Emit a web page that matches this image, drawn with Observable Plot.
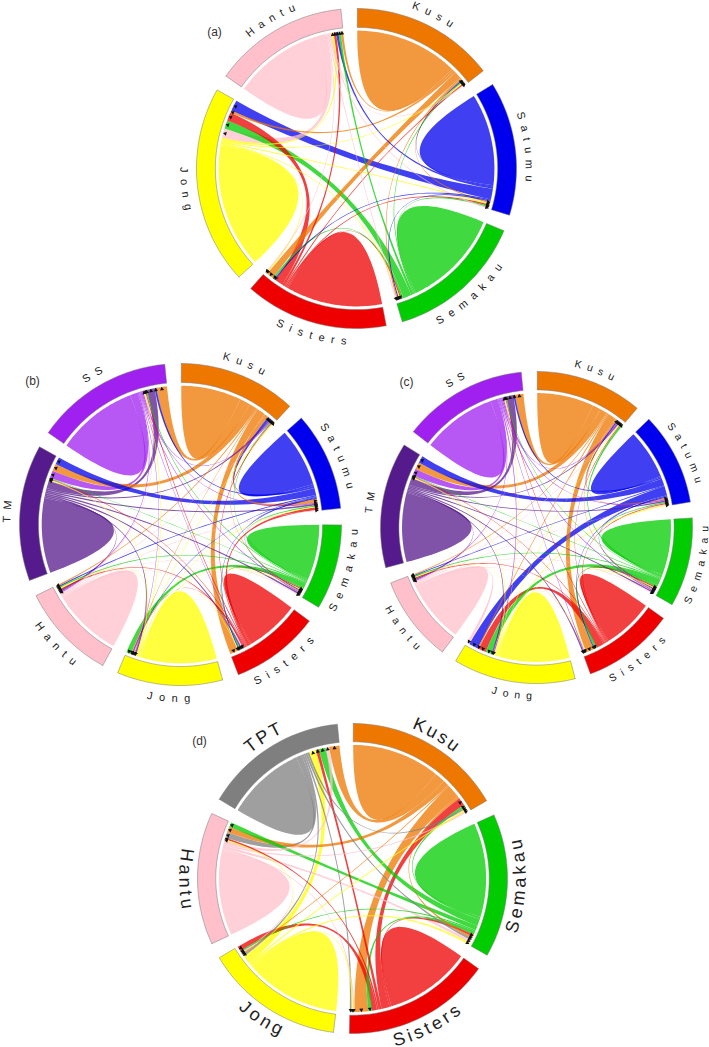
<!DOCTYPE html>
<html>
<head>
<meta charset="utf-8">
<script src="https://cdn.jsdelivr.net/npm/d3@7"></script>
<script src="https://cdn.jsdelivr.net/npm/@observablehq/plot@0.6"></script>
<style>html,body{margin:0;padding:0;background:#fff}svg{display:block}</style>
</head>
<body>
<div id="chart"></div>
<script>
const siteNames = {K:"Kusu",Sa:"Satumu",Se:"Semakau",Si:"Sisters",J:"Jong",H:"Hantu",T:"TM",S:"SS",P:"TPT"};
const siteColors = {K:"#EE7700",Sa:"#0000EE",Se:"#00CC00",Si:"#EE0000",J:"#FFFF00",H:"#FFC0CB",T:"#551A8B",S:"#A020F0",P:"#7F7F7F"};

// Sites clockwise, self-recruitment, and incoming connectivity of each site, clockwise along its rim.
const sitesA = ["K","Sa","Se","Si","J","H"];
const selfA = [43.4,38.6,41.5,40.6,52.4,37.9];
const inflowA = {
  K:[["Sa",.5],["Se",.5],["J",.5],["Si",.5],["H",.5]],
  Sa:[["K",.6],["J",.6],["Si",.6],["Se",.6],["H",.6]],
  Se:[["Si",.5],["J",.5],["Sa",.5],["K",.5],["H",.5]],
  Si:[["Sa",.5],["Se",.8],["K",3],["J",.5],["H",.5]],
  J:[["H",4],["Se",3.5],["Si",3.5],["K",1],["Sa",4.5]],
  H:[["J",1],["Si",1],["Sa",1],["Se",1],["K",1]]
};
const sitesB = ["K","Sa","Se","Si","J","H","T","S"];
const selfB = [25.2,24.3,23,22.4,31.4,29,31.2,33.9];
const inflowB = {
  K:[["Sa",.9],["T",.7],["S",.5],["Se",.4],["Si",.4],["H",.3],["J",.3]],
  Sa:[["K",1.5],["S",.4],["T",.7],["Se",.5],["J",.3],["Si",1.2],["H",.3]],
  Se:[["Si",.5],["J",.4],["Sa",.4],["K",.4],["S",.4],["T",.7],["H",.3]],
  Si:[["S",.3],["H",.3],["T",.7],["Se",.5],["Sa",.4],["J",.3],["K",3.5]],
  J:[["T",.7],["S",.3],["H",.3],["Si",.3],["Sa",.3],["K",.3],["Se",2]],
  H:[["S",.5],["T",.7],["Si",.5],["J",.4],["Se",.5],["Sa",.5],["K",.5]],
  T:[["H",.3],["J",.3],["Si",.3],["Se",.3],["S",3.2],["K",3],["Sa",3]],
  S:[["J",.4],["H",.4],["Si",.4],["Se",.4],["T",3.2],["Sa",.8],["K",4.4]]
};
const sitesC = ["K","Sa","Se","Si","J","H","T","S"];
const selfC = [24.2,21.2,23.7,21.8,30.1,25.6,29.5,31.8];
const inflowC = {
  K:[["Sa",.4],["S",.5],["T",.6],["H",.3],["J",.3],["Si",.3],["Se",.8]],
  Sa:[["K",.6],["S",.5],["T",.6],["Se",.5],["Si",.5],["H",.3],["J",.5]],
  Se:[["Si",.5],["J",.4],["Sa",.5],["K",.4],["S",.5],["T",.6],["H",.3]],
  Si:[["Se",1],["Sa",.4],["K",3.5],["J",.3],["H",.3],["S",.3],["T",.6]],
  J:[["S",.5],["T",.6],["Se",2.5],["Si",3.2],["K",.5],["Sa",4],["H",1.2]],
  H:[["S",.4],["T",.6],["Si",.5],["J",.3],["Se",.5],["Sa",.4],["K",.4]],
  T:[["H",.3],["J",.3],["Si",.3],["Se",.3],["S",3],["K",3],["Sa",3]],
  S:[["J",.3],["H",.3],["Si",.3],["Se",.3],["T",3],["Sa",.7],["K",3.6]]
};
const sitesD = ["K","Se","Si","J","H","P"];
const selfD = [38.2,40.8,37.3,41.4,36.6,34.2];
const inflowD = {
  K:[["Si",3.5],["Se",1],["P",.8],["J",.7],["H",.8]],
  Se:[["Si",.9],["K",.9],["P",.9],["H",1.2],["J",.9]],
  Si:[["Se",1.5],["K",6],["H",.6],["J",.6],["P",.8]],
  J:[["P",1],["K",.5],["H",.6],["Se",.6],["Si",2.2]],
  H:[["J",.5],["Si",.7],["P",2.5],["K",2.5],["Se",2]],
  P:[["J",3],["Si",1.3],["Se",3],["H",1.5],["K",4.5]]
};

const panels = [
  {tag:"(a)",sites:sitesA,self:selfA,inflow:inflowA,cx:356,cy:168,R:160,font:11,track:6.5,tagX:214,tagY:32},
  {tag:"(b)",sites:sitesB,self:selfB,inflow:inflowB,cx:180,cy:524,R:161,font:11,track:6.5,tagX:32,tagY:381},
  {tag:"(c)",sites:sitesC,self:selfC,inflow:inflowC,cx:536,cy:527,R:156,font:10.5,track:6,tagX:406,tagY:382},
  {tag:"(d)",sites:sitesD,self:selfD,inflow:inflowD,cx:352,cy:878,R:155,font:18,track:3,tagX:199,tagY:741}
];

const rad = Math.PI/180;
const polygons = [], ribbons = [], arrows = [], letters = [];
const ctx = document.createElement("canvas").getContext("2d");
let pid = 0;

function layoutPanel(p){
  const n = p.sites.length, gap = 5.9;
  const pos = (r,a)=>({x:p.cx+r*Math.sin(a*rad), y:p.cy-r*Math.cos(a*rad)});
  const rimR = p.R*0.862, tIn = p.R*0.882;
  // sizes
  const outOf = {};
  p.sites.forEach(s=>outOf[s]=[]);
  for (const to of p.sites) for (const [from,v] of p.inflow[to]) outOf[from].push({to,v});
  const idx = s=>p.sites.indexOf(s);
  const totals = p.sites.map((s,i)=>p.self[i]+d3.sum(outOf[s],d=>d.v)+d3.sum(p.inflow[s],d=>d[1]));
  const k = (360-n*gap)/d3.sum(totals);
  let a0 = 0.3;
  const outSlot = {}, inSlot = {};
  const selfSpans = [];
  p.sites.forEach((s,i)=>{
    const start = a0, end = a0+totals[i]*k;
    // outer track
    const id = ++pid;
    const ring = [];
    const steps = 40;
    for (let j=0;j<=steps;j++) ring.push(pos(p.R,start+(end-start)*j/steps));
    for (let j=steps;j>=0;j--) ring.push(pos(tIn,start+(end-start)*j/steps));
    ring.push(ring[0]);
    ring.forEach(q=>polygons.push({...q,id,color:siteColors[s]}));
    // slots
    let a = start;
    const selfEnd = a+p.self[i]*k;
    selfSpans.push([s,a,selfEnd]);
    a = selfEnd;
    const outs = outOf[s].slice().sort((u,w)=>((idx(w.to)-i+n)%n)-((idx(u.to)-i+n)%n));
    for (const o of outs){ outSlot[s+">"+o.to]=[a,a+o.v*k]; a+=o.v*k; }
    for (const [from,v] of p.inflow[s]){ inSlot[from+">"+s]=[a,a+v*k]; a+=v*k; }
    // label
    const name = siteNames[s], mid=(start+end)/2, lr=p.R*1.08;
    ctx.font = p.font+"px 'Liberation Sans'";
    const widths=[...name].map(c=>ctx.measureText(c).width);
    const total=d3.sum(widths)+p.track*(name.length-1);
    let run=0;
    const flip = mid>90 && mid<270;
    [...name].forEach((c,j)=>{
      const s0=run+widths[j]/2;
      run+=widths[j]+p.track;
      const off=(s0-total/2)/lr/rad;
      const ang=flip?mid-off:mid+off;
      const q=pos(lr,ang);
      letters.push({...q,c,rot:flip?ang-180:ang,font:p.font});
    });
    a0 = end+gap;
  });
  const bez=(A,B,list)=>{
    const m=36;
    for(let j=1;j<m;j++){
      const t=j/m, u=1-t;
      list.push({x:u*u*A.x+2*u*t*p.cx+t*t*B.x, y:u*u*A.y+2*u*t*p.cy+t*t*B.y});
    }
  };
  const arc=(x,y,list)=>{
    const m=Math.max(2,Math.ceil((y-x)/1));
    for(let j=0;j<=m;j++) list.push(pos(rimR,x+(y-x)*j/m));
  };
  // self blobs
  for(const [s,x,y] of selfSpans){
    const id=++pid, list=[];
    arc(x,y,list);
    bez(pos(rimR,y),pos(rimR,x),list);
    list.forEach(q=>ribbons.push({...q,id,color:siteColors[s]}));
  }
  // flows, the wide ones first
  const flows=[];
  for (const to of p.sites) for (const [from,v] of p.inflow[to]) flows.push({from,to,v});
  flows.sort((u,w)=>w.v-u.v);
  for(const f of flows){
    const key=f.from+">"+f.to, [a1,a2]=outSlot[key], [b1,b2]=inSlot[key];
    const id=++pid, list=[];
    arc(a1,a2,list);
    bez(pos(rimR,a2),pos(rimR,b1),list);
    arc(b1,b2,list);
    bez(pos(rimR,b2),pos(rimR,a1),list);
    list.forEach(q=>ribbons.push({...q,id,color:siteColors[f.from]}));
    const am=(b1+b2)/2, q=pos(rimR*0.985,am);
    arrows.push({...q,rot:am});
  }
}
panels.forEach(layoutPanel);

const tags = panels.map(p=>({x:p.tagX,y:p.tagY,t:p.tag}));

const chart = Plot.plot({
  width:709,height:1047,margin:0,
  x:{domain:[0,709],range:[0,709],axis:null},
  y:{domain:[0,1047],range:[0,1047],axis:null},
  color:{type:"identity"},
  style:{background:"#fff",fontFamily:"'Liberation Sans',Arial,sans-serif"},
  marks:[
    Plot.line(ribbons,{x:"x",y:"y",z:"id",fill:"color",fillOpacity:0.75,stroke:"none"}),
    Plot.line(polygons,{x:"x",y:"y",z:"id",fill:"color",stroke:"#777",strokeWidth:0.5}),
    Plot.dot(arrows,{x:"x",y:"y",symbol:"triangle",r:1.5,fill:"#111",stroke:"none",rotate:"rot"}),
    Plot.text(letters,{x:"x",y:"y",text:"c",rotate:"rot",fontSize:"font",fill:"#222",textAnchor:"middle",lineAnchor:"middle"}),
    Plot.text(tags,{x:"x",y:"y",text:"t",fontSize:12,fill:"#333",textAnchor:"middle",lineAnchor:"middle"})
  ]
});
document.getElementById("chart").appendChild(chart);
</script>
</body>
</html>
